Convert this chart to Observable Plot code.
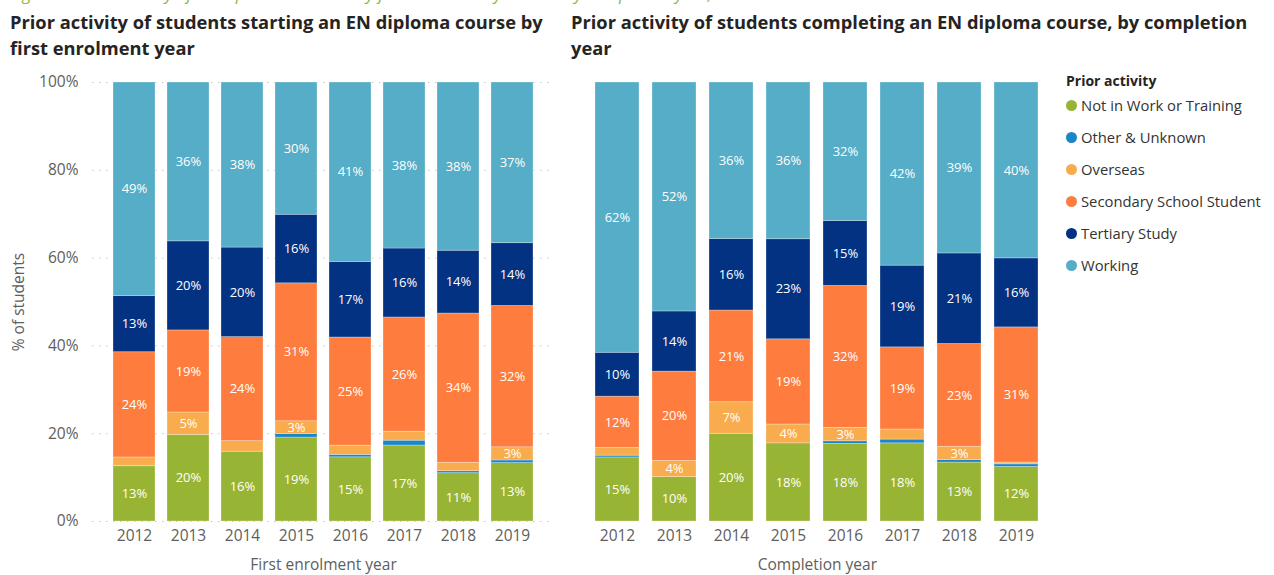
<!DOCTYPE html>
<html>
<head>
<meta charset="utf-8">
<script src="https://cdn.jsdelivr.net/npm/d3@7"></script>
<script src="https://cdn.jsdelivr.net/npm/@observablehq/plot@0.6"></script>
<style>
  html, body { margin: 0; padding: 0; background: #fff; }
  #page { position: relative; width: 1274px; height: 575px; overflow: hidden; font-family: "Open Sans", sans-serif; }
  .caption { position: absolute; left: 10px; top: -18px; font-style: italic; color: #8DB63C; font-size: 17px; line-height: 23px; white-space: nowrap; font-family: "Open Sans", sans-serif; }
  .title { position: absolute; font-family: "Open Sans", sans-serif; font-weight: 700; font-size: 18.3px; line-height: 26px; color: #252423; white-space: nowrap; }
  #legend { position: absolute; left: 1066px; top: 71px; font-size: 14.8px; color: #333; }
  #legend .lt { font-weight: 700; font-size: 14px; color: #252423; margin-bottom: 5px; font-family: "Open Sans", sans-serif; }
  #legend .item { display: flex; align-items: center; height: 32px; margin-top: -6px; margin-bottom: 6px; }
  #legend .sw { width: 11px; height: 11px; border-radius: 50%; margin-right: 4px; }
  .chart { position: absolute; top: 60px; }
</style>
</head>
<body>
<div id="page">
  <div class="caption">Figure 5: Prior activity of EN diploma students by first enrolment year and by completion year, 2012–2019</div>
  <div class="title" style="left:10px; top:9px;">Prior activity of students starting an EN diploma course by<br>first enrolment year</div>
  <div class="title" style="left:571px; top:9px;">Prior activity of students completing an EN diploma course, by completion<br>year</div>
  <div id="left" class="chart" style="left:0px;"></div>
  <div id="right" class="chart" style="left:560px;"></div>
  <div id="legend"></div>
</div>
<script>
// Categories
const years = ["2012", "2013", "2014", "2015", "2016", "2017", "2018", "2019"];
const activities = ["Not in Work or Training", "Other & Unknown", "Overseas", "Secondary School Student", "Tertiary Study", "Working"];
const activityColors = ["#98B435", "#1A86C8", "#F8AC4D", "#FE7C3E", "#033283", "#55ADC7"];
const yTicks = [0, 0.2, 0.4, 0.6, 0.8, 1];

// Students starting, by first enrolment year (% of students)
const startNotInWork  = [12.6, 19.75, 15.9, 19.1, 14.6, 17.3, 11.0, 13.3];
const startOther      = [0.1, 0.0, 0.0, 0.8, 0.55, 1.1, 0.45, 0.6];
const startOverseas   = [1.9, 5.1, 2.4, 2.9, 2.1, 2.05, 1.9, 3.0];
const startSecondary  = [24.0, 18.7, 23.7, 31.4, 24.6, 26.0, 34.0, 32.2];
const startTertiary   = [12.8, 20.3, 20.4, 15.6, 17.2, 15.7, 14.3, 14.3];
const startWorking    = [48.7, 36.2, 37.6, 30.1, 40.8, 37.8, 38.3, 36.6];

// Students completing, by completion year (% of students)
const compNotInWork   = [14.6, 10.1, 20.0, 17.8, 17.7, 17.8, 13.4, 12.4];
const compOther       = [0.4, 0.0, 0.0, 0.0, 0.6, 0.85, 0.6, 0.6];
const compOverseas    = [1.75, 3.7, 7.2, 4.3, 3.05, 2.3, 3.0, 0.4];
const compSecondary   = [11.7, 20.3, 20.9, 19.4, 32.4, 18.7, 23.4, 30.75];
const compTertiary    = [10.0, 13.7, 16.3, 22.8, 14.8, 18.6, 20.6, 15.7];
const compWorking     = [61.6, 52.1, 35.7, 35.7, 31.6, 41.7, 38.9, 40.0];

function toRows(series) {
  const rows = [];
  years.forEach((yr, i) => {
    series.forEach((arr, k) => {
      rows.push({year: yr, activity: activities[k], value: arr[i]});
    });
  });
  return rows;
}

const startRows = toRows([startNotInWork, startOther, startOverseas, startSecondary, startTertiary, startWorking]);
const compRows  = toRows([compNotInWork, compOther, compOverseas, compSecondary, compTertiary, compWorking]);

const labelText = d => d.value >= 2.5 ? Math.round(d.value) + "%" : "";

function makeChart(rows, {width, marginLeft, marginRight, xLabel, showY}) {
  const stackOpts = {x: "year", y: "value", z: "activity", order: activities, offset: "normalize"};
  return Plot.plot({
    width,
    height: 515,
    marginTop: 22,
    marginBottom: 54,
    marginLeft,
    marginRight,
    style: {fontFamily: "'Open Sans', sans-serif", fontSize: "15.5px", color: "#605E5C", background: "transparent"},
    x: {type: "band", domain: years, padding: 0.22, label: xLabel, labelAnchor: "center", labelOffset: 48, tickSize: 0, tickPadding: 8},
    y: showY
      ? {domain: [0, 1], ticks: yTicks, tickFormat: d3.format(".0%"), tickSize: 0, tickPadding: 23, label: "% of students", labelAnchor: "center", labelOffset: 89, labelArrow: "none"}
      : {domain: [0, 1], axis: null},
    color: {domain: activities, range: activityColors},
    marks: [
      showY ? Plot.ruleY(yTicks, {stroke: "#C8C6C4", strokeDasharray: "1.5,5.5", insetLeft: -9, insetRight: -4}) : null,
      Plot.barY(rows, Plot.stackY({...stackOpts, fill: "activity", stroke: "#fff", strokeOpacity: 0.35, strokeWidth: 0.8})),
      Plot.text(rows, Plot.stackY({...stackOpts, text: labelText, fill: "#fff", fontSize: 13, fontFamily: "'Open Sans', sans-serif"}))
    ]
  });
}

document.getElementById("left").appendChild(makeChart(startRows, {width: 555, marginLeft: 101, marginRight: 10, xLabel: "First enrolment year", showY: true}));
document.getElementById("right").appendChild(makeChart(compRows, {width: 500, marginLeft: 20.5, marginRight: 6.7, xLabel: "Completion year", showY: false}));

// Legend
const legend = document.getElementById("legend");
const lt = document.createElement("div");
lt.className = "lt";
lt.textContent = "Prior activity";
legend.appendChild(lt);
activities.forEach((a, i) => {
  const item = document.createElement("div");
  item.className = "item";
  const sw = document.createElement("span");
  sw.className = "sw";
  sw.style.background = activityColors[i];
  const t = document.createElement("span");
  t.textContent = a;
  item.appendChild(sw);
  item.appendChild(t);
  legend.appendChild(item);
});
</script>
</body>
</html>
